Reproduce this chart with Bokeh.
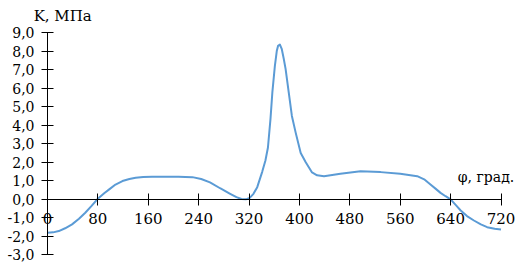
from bokeh.plotting import figure
from bokeh.models import Range1d, Label, FixedTicker
from bokeh.embed import file_html
from bokeh.resources import INLINE

phi = [0, 9, 18, 28, 39, 50, 60, 70, 79, 90, 98, 108, 119, 130, 140, 152, 166, 208, 230, 244, 258, 274,
       290, 300, 308, 315, 321, 327, 333, 341, 346, 350, 354, 357, 361, 364, 366, 369, 372, 375, 378,
       383, 388, 394, 402, 410, 420, 428, 439, 465, 497, 529, 560, 587, 598, 608, 616, 624, 632, 640,
       648, 656, 666, 677, 688, 698, 710, 720]
K = [-1.8, -1.78, -1.71, -1.56, -1.35, -1.05, -0.72, -0.35, 0.0, 0.33, 0.54, 0.8, 0.99, 1.1, 1.17,
     1.21, 1.22, 1.22, 1.2, 1.1, 0.92, 0.6, 0.3, 0.12, 0.02, 0.0, 0.08, 0.3, 0.66, 1.5, 2.1, 2.8, 4.33,
     5.77, 7.2, 8.0, 8.28, 8.35, 8.1, 7.6, 7.04, 5.77, 4.5, 3.6, 2.5, 2.0, 1.45, 1.3, 1.25, 1.38, 1.52,
     1.47, 1.38, 1.25, 1.08, 0.8, 0.58, 0.35, 0.17, 0.0, -0.3, -0.6, -0.9, -1.14, -1.35, -1.5, -1.58,
     -1.62]

x_ticks = [0, 80, 160, 240, 320, 400, 480, 560, 640, 720]
y_ticks = [-3, -2, -1, 0, 1, 2, 3, 4, 5, 6, 7, 8, 9]
y_tick_labels = {t: f"{t:.1f}".replace(".", ",") for t in y_ticks}
y_title = "K, МПа"
x_title = "φ, град."

FONT = "DejaVu Serif"

p = figure(width=516, height=268, output_backend="svg", toolbar_location=None,
           x_range=Range1d(-74.6, 744.6), y_range=Range1d(-3.73, 10.73),
           min_border_left=0, min_border_right=0, min_border_top=0, min_border_bottom=0)
p.outline_line_color = None
p.grid.visible = False

p.line(phi, K, line_color="#5B9BD5", line_width=2, line_join="round")

for ax in (p.xaxis[0], p.yaxis[0]):
    ax.fixed_location = 0
    ax.axis_line_color = "black"
    ax.major_tick_line_color = "black"
    ax.minor_tick_line_color = None
    ax.major_tick_in = 6
    ax.major_tick_out = 6
    ax.major_label_text_font = FONT
    ax.major_label_text_color = "black"

p.xaxis[0].ticker = FixedTicker(ticks=x_ticks)
p.xaxis[0].bounds = (0, 720)
p.xaxis[0].major_label_text_font_size = "15px"
p.xaxis[0].major_label_standoff = 8

p.yaxis[0].ticker = FixedTicker(ticks=y_ticks)
p.yaxis[0].bounds = (-3, 9)
p.yaxis[0].major_label_overrides = y_tick_labels
p.yaxis[0].major_label_text_font_size = "14px"
p.yaxis[0].major_label_standoff = 7

p.add_layout(Label(x=-22, y=9.9, text=y_title, text_font=FONT, text_font_size="15px",
                   text_color="black", text_baseline="alphabetic", text_align="left"))
p.add_layout(Label(x=741, y=1.19, text=x_title, text_font=FONT, text_font_size="14px",
                   text_color="black", text_baseline="alphabetic", text_align="right"))

open("out.html", "w").write(file_html(p, INLINE))
